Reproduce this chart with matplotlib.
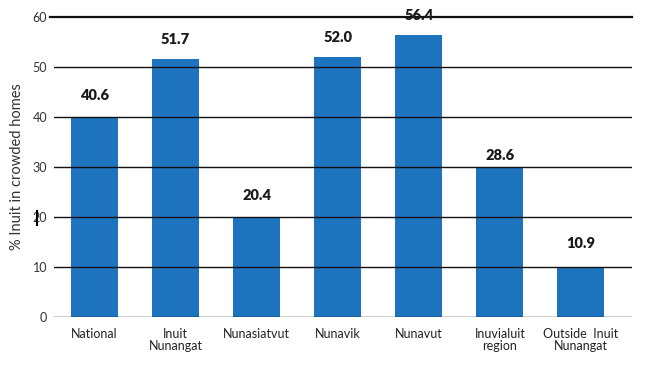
import matplotlib
matplotlib.use("Agg")
import matplotlib.pyplot as plt
from matplotlib.lines import Line2D

categories = ["National", "Inuit\nNunangat", "Nunasiatvut", "Nunavik", "Nunavut",
              "Inuvialuit\nregion", "Outside  Inuit\nNunangat"]
bar_heights = [40, 51.7, 20, 52.0, 56.4, 30, 10]
label_values = [40.6, 51.7, 20.4, 52.0, 56.4, 28.6, 10.9]
yticks = [0, 10, 20, 30, 40, 50, 60]

fig = plt.figure(figsize=(6.61, 3.71), dpi=100)
ax = fig.add_axes([54/661, 1-317/371, (632-54)/661, 300/371])

x = list(range(len(categories)))
ax.bar(x, bar_heights, width=0.58, color="#1e73be", zorder=1)

for t in yticks[:-1]:
    ax.axhline(t, color="#111111", lw=1.0, zorder=2)
# top line, slightly longer and heavier
ax.add_line(Line2D([-0.55, 6.63], [60, 60], color="#111111", lw=1.6, clip_on=False, zorder=2))

for xi, v in zip(x, label_values):
    ax.annotate(f"{v:.1f}", (xi, v), xytext=(0, 9), textcoords="offset points",
                ha="center", va="bottom", fontsize=10.5, fontweight="heavy",
                family="Lato", color="#1a1a1a", annotation_clip=False, zorder=3)

ax.set_xlim(-0.5, 6.63)
ax.set_ylim(0, 60)
ax.set_yticks(yticks)
ax.set_yticklabels([str(t) for t in yticks], fontsize=9, family="Lato", color="#333333")
ax.set_xticks(x)
ax.set_xticklabels(categories, fontsize=9, family="Lato", color="#222222", linespacing=1.0)
ax.tick_params(axis="both", length=0)
ax.tick_params(axis="y", pad=5)
ax.tick_params(axis="x", pad=8)
for s in ax.spines.values():
    s.set_visible(False)

ax.set_ylabel("% Inuit in crowded homes", fontsize=10.5, family="Lato", color="#333333", labelpad=6)

# small cursor mark near the axis
fig.add_artist(Line2D([37/661, 37/661], [1-225/371, 1-211/371], color="black", lw=1.5))

fig.savefig("out.png", dpi=100)
